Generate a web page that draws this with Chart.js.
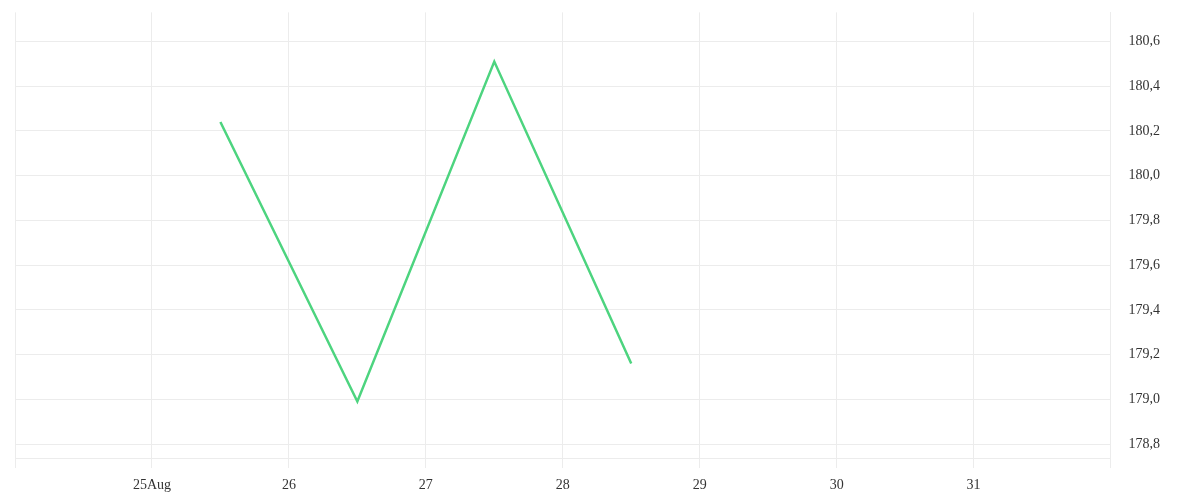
<!DOCTYPE html>
<html>
<head>
<meta charset="utf-8">
<script src="https://cdn.jsdelivr.net/npm/chart.js@4/dist/chart.umd.min.js"></script>
<style>
  html, body { margin: 0; padding: 0; background: #fff; }
</style>
</head>
<body>
<canvas id="priceChart" width="1200" height="500"></canvas>
<script>
// chart data
var days = [25.5, 26.5, 27.5, 28.5];
var prices = [180.24, 178.99, 180.51, 179.16];
var dayLabels = { 25: '25Aug', 26: '26', 27: '27', 28: '28', 29: '29', 30: '30', 31: '31' };

var gridColor = '#ececec';

var ctx = document.getElementById('priceChart').getContext('2d');
var myChart = new Chart(ctx, {
    type: 'line',
    data: {
        datasets: [{
            label: 'Price',
            data: days.map(function (d, i) { return { x: d, y: prices[i] }; }),
            borderColor: '#4dd47f',
            borderWidth: 2.5,
            pointRadius: 0,
            tension: 0,
            fill: false
        }]
    },
    options: {
        responsive: false,
        animation: false,
        layout: { padding: { left: 15, top: 0, right: 36, bottom: 0 } },
        plugins: { legend: { display: false }, tooltip: { enabled: false } },
        scales: {
            x: {
                type: 'linear',
                min: 24,
                max: 32,
                grid: { color: gridColor, tickLength: 10 },
                border: { color: gridColor },
                afterFit: function (scale) { scale.height = 42; },
                ticks: {
                    stepSize: 1,
                    padding: 9,
                    maxRotation: 0,
                    autoSkip: false,
                    color: '#333',
                    font: { family: 'Liberation Serif', size: 14 },
                    callback: function (v) { return dayLabels[v] || ''; }
                }
            },
            y: {
                position: 'right',
                min: 178.7375,
                max: 180.73,
                grid: { color: gridColor, tickLength: 14, tickColor: 'rgba(0,0,0,0)' },
                border: { color: gridColor },
                ticks: {
                    stepSize: 0.2,
                    includeBounds: false,
                    padding: 4,
                    color: '#333',
                    font: { family: 'Liberation Serif', size: 14 },
                    callback: function (v) { return v.toFixed(1).replace('.', ','); }
                }
            }
        }
    }
});
</script>
</body>
</html>
